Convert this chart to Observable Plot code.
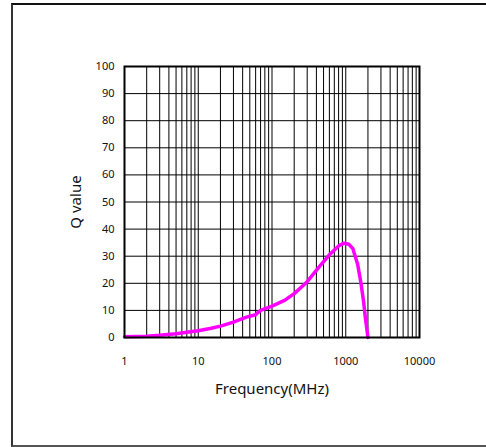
<!DOCTYPE html>
<html>
<head>
<meta charset="utf-8">
<script src="https://cdn.jsdelivr.net/npm/d3@7"></script>
<script src="https://cdn.jsdelivr.net/npm/@observablehq/plot@0.6"></script>
<style>
  html, body { margin: 0; padding: 0; background: #fff; overflow: hidden; }
  #wrap { position: relative; width: 486px; height: 447px; overflow: hidden; }
  #box {
    position: absolute; left: 11px; top: 3px; width: 520px; height: 440px;
    border-top: 2px solid #111; border-left: 2px solid #333; border-bottom: 2px solid #555;
  }
  #chart { position: absolute; left: 0; top: 0; }
</style>
</head>
<body>
<div id="wrap">
  <div id="box"></div>
  <div id="chart"></div>
</div>
<script>
// Q factor versus frequency
const frequencyMHz = [1, 2, 3, 5, 7, 10, 15, 20, 30, 45, 60, 65, 70, 100, 150, 200, 300, 450, 600, 800, 950, 1100, 1250, 1300, 1450, 1600, 1750, 1850, 2000];
const qValue =       [0.3, 0.5, 0.8, 1.4, 1.9, 2.5, 3.4, 4.2, 5.7, 7.5, 8.4, 9.3, 10, 11.6, 13.8, 16.2, 20.6, 26.5, 30.5, 33.8, 34.8, 34.4, 32.8, 31.2, 27, 20.5, 13, 7, 0];

const xTickLabels = [1, 10, 100, 1000, 10000];
const yTickLabels = [0, 10, 20, 30, 40, 50, 60, 70, 80, 90, 100];

// log grid: 1..9 within each decade, plus the last decade edge
const xGrid = xTickLabels.slice(0, -1).flatMap(d => d3.range(1, 10).map(k => k * d)).concat([10000]);

const points = frequencyMHz.map((f, i) => ({f, q: qValue[i]}));

const chart = Plot.plot({
  width: 486,
  height: 447,
  marginLeft: 124,
  marginRight: 67,
  marginTop: 66,
  marginBottom: 110,
  style: {fontFamily: "'Noto Sans', 'Open Sans', sans-serif", fontSize: "11px", color: "#111", background: "transparent"},
  x: {type: "log", domain: [1, 10000]},
  y: {domain: [0, 100]},
  marks: [
    Plot.gridX(xGrid, {stroke: "#000", strokeOpacity: 1, strokeWidth: 1}),
    Plot.gridY(yTickLabels, {stroke: "#000", strokeOpacity: 1, strokeWidth: 1}),
    Plot.axisX(xTickLabels, {tickSize: 0, tickPadding: 20, tickFormat: d => String(d), label: "Frequency(MHz)", labelAnchor: "center", labelArrow: "none", labelOffset: 56}),
    Plot.axisY(yTickLabels, {tickSize: 0, tickPadding: 10, tickFormat: d => String(d), label: "Q value", labelAnchor: "center", labelArrow: "none", labelOffset: 54}),
    Plot.line(points, {x: "f", y: "q", stroke: "#ff00ff", strokeWidth: 3.5, strokeLinejoin: "round", strokeLinecap: "round"}),
    Plot.frame({stroke: "#000", strokeWidth: 2})
  ]
});

// larger axis titles
chart.querySelectorAll("[aria-label='x-axis label'] text, [aria-label='y-axis label'] text").forEach(t => t.setAttribute("font-size", "15"));

document.getElementById("chart").appendChild(chart);
</script>
</body>
</html>
